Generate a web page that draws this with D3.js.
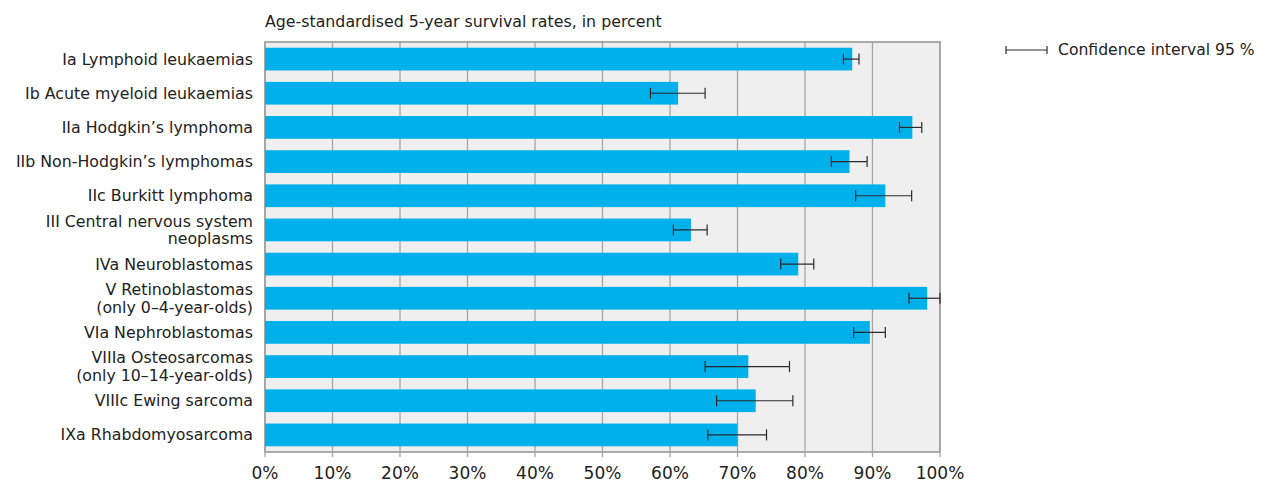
<!DOCTYPE html>
<html><head><meta charset="utf-8">
<script src="https://cdn.jsdelivr.net/npm/d3@7"></script>
<style>body{margin:0;background:#fff;} text{font-family:"DejaVu Sans",sans-serif;fill:#222;}</style>
</head><body>
<svg id="c" width="1270" height="484"></svg>
<script>
const categories = [
  ["Ia Lymphoid leukaemias"],
  ["Ib Acute myeloid leukaemias"],
  ["IIa Hodgkin’s lymphoma"],
  ["IIb Non-Hodgkin’s lymphomas"],
  ["IIc Burkitt lymphoma"],
  ["III Central nervous system", "neoplasms"],
  ["IVa Neuroblastomas"],
  ["V Retinoblastomas", "(only 0–4-year-olds)"],
  ["VIa Nephroblastomas"],
  ["VIIIa Osteosarcomas", "(only 10–14-year-olds)"],
  ["VIIIc Ewing sarcoma"],
  ["IXa Rhabdomyosarcoma"]
];
const survival = [87.0, 61.2, 95.9, 86.6, 91.9, 63.1, 79.0, 98.1, 89.6, 71.6, 72.7, 70.0];
const ciLow   = [85.7, 57.1, 94.0, 83.9, 87.5, 60.5, 76.4, 95.4, 87.2, 65.2, 66.9, 65.6];
const ciHigh  = [88.0, 65.2, 97.3, 89.2, 95.8, 65.5, 81.3, 100.0, 91.9, 77.7, 78.2, 74.3];
const ticks = [0, 10, 20, 30, 40, 50, 60, 70, 80, 90, 100];
const title = "Age-standardised 5-year survival rates, in percent";
const legendLabel = "Confidence interval 95 %";

const svg = d3.select("#c");
const L = 265, R = 940, T = 42, B = 452;
const x = d3.scaleLinear().domain([0, 100]).range([L, R]);
const y = d3.scaleBand().domain(d3.range(categories.length)).range([T, B]).paddingInner(0.335).paddingOuter(0.1675);

svg.append("rect").attr("x", L).attr("y", T).attr("width", R - L).attr("height", B - T).attr("fill", "#efefef");

// gridlines
svg.append("g").selectAll("line").data(ticks).join("line")
  .attr("x1", d => x(d)).attr("x2", d => x(d)).attr("y1", T).attr("y2", B + 5)
  .attr("stroke", "#a6a6a6").attr("stroke-width", 1.3);

// border
svg.append("rect").attr("x", L).attr("y", T).attr("width", R - L).attr("height", B - T)
  .attr("fill", "none").attr("stroke", "#a3a3a3").attr("stroke-width", 1.8);

// bars
svg.append("g").selectAll("rect").data(survival).join("rect")
  .attr("x", x(0)).attr("y", (d, i) => y(i)).attr("width", d => x(d) - x(0)).attr("height", y.bandwidth())
  .attr("fill", "#00b0ea");

// error bars
const eb = svg.append("g").attr("stroke", "#2a2a2a").attr("stroke-width", 1.2);
survival.forEach((v, i) => {
  const cy = y(i) + y.bandwidth() / 2;
  eb.append("line").attr("x1", x(ciLow[i])).attr("x2", x(ciHigh[i])).attr("y1", cy).attr("y2", cy);
  eb.append("line").attr("x1", x(ciLow[i])).attr("x2", x(ciLow[i])).attr("y1", cy - 5.5).attr("y2", cy + 5.5);
  eb.append("line").attr("x1", x(ciHigh[i])).attr("x2", x(ciHigh[i])).attr("y1", cy - 5.5).attr("y2", cy + 5.5);
});

// category labels
const lab = svg.append("g").attr("font-size", 15.8).attr("text-anchor", "end");
categories.forEach((lines, i) => {
  const cy = y(i) + y.bandwidth() / 2;
  const n = lines.length;
  lines.forEach((t, j) => {
    lab.append("text").attr("x", 253).attr("y", cy + (j - (n - 1) / 2) * 17.5).attr("dy", "0.35em").text(t);
  });
});

// x axis labels
svg.append("g").attr("font-size", 17).attr("text-anchor", "middle")
  .selectAll("text").data(ticks).join("text")
  .attr("x", d => x(d)).attr("y", 479).text(d => d + "%");

// title
svg.append("text").attr("x", L).attr("y", 27).attr("font-size", 15.8).text(title);

// legend
const lg = svg.append("g").attr("stroke", "#2a2a2a").attr("stroke-width", 1.2);
lg.append("line").attr("x1", 1006).attr("x2", 1047).attr("y1", 50).attr("y2", 50);
lg.append("line").attr("x1", 1006).attr("x2", 1006).attr("y1", 46).attr("y2", 54);
lg.append("line").attr("x1", 1047).attr("x2", 1047).attr("y1", 46).attr("y2", 54);
svg.append("text").attr("x", 1058).attr("y", 50).attr("dy", "0.35em").attr("font-size", 15.6).text(legendLabel);
</script>
</body></html>
